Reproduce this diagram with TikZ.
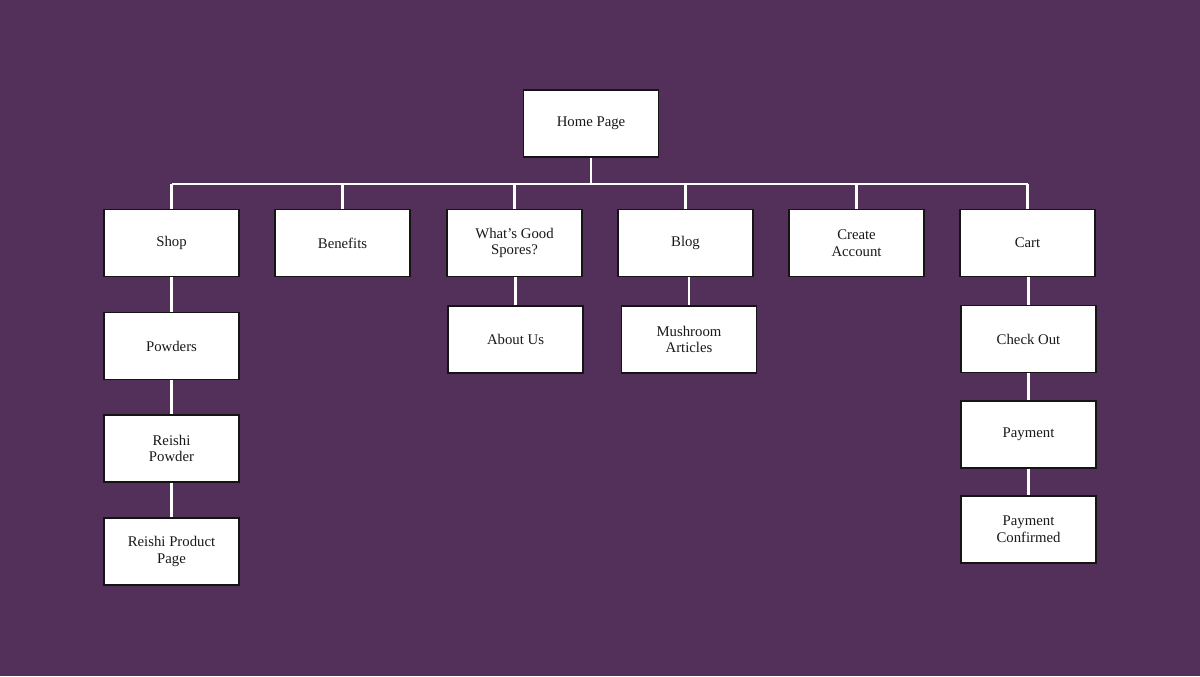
\documentclass[tikz,border=0pt]{standalone}
\usepackage{fontspec}
\setmainfont{Liberation Serif}
\definecolor{bgpurple}{RGB}{82,48,90}
\definecolor{boxline}{RGB}{20,20,20}
\begin{document}
\begin{tikzpicture}[
	x=0.025cm, y=-0.025cm,
	every node/.style={rectangle, minimum width=3.375cm, minimum height=1.675cm, draw=boxline, fill=white, line width=0.9pt, align=center, font=\fontsize{10.5}{11.8}\selectfont, text=black!90},
	link/.style={draw=white, line width=1.5pt},
]
\useasboundingbox[fill=bgpurple] (0,0) rectangle (1200,676);
\node (home) at (591,123.5) {Home Page};
\node (shop) at (171.5,243) {Shop};
\node (benefits) at (342.5,243) {Benefits};
\node (spores) at (514.5,243) {What's Good\\Spores?};
\node (blog) at (685.5,243) {Blog};
\node (account) at (856.5,243) {Create\\Account};
\node (cart) at (1027.5,243) {Cart};
\node (powders) at (171.5,346) {Powders};
\node (reishi) at (171.5,448.5) {Reishi\\Powder};
\node (product) at (171.5,551.5) {Reishi Product\\Page};
\node (about) at (515.5,339.5) {About Us};
\node (articles) at (689,339.5) {Mushroom\\Articles};
\node (checkout) at (1028.5,339) {Check Out};
\node (payment) at (1028.5,434.5) {Payment};
\node (confirmed) at (1028.5,529.5) {Payment\\Confirmed};
\coordinate (bus) at (591,184);
\draw [link] (home.south) -- (bus);
\draw [link] (bus -| shop.north) -- (bus -| cart.north);
\foreach \n in {shop,benefits,spores,blog,account,cart}
	\draw [link] (bus -| \n.north) -- (\n.north);
\draw [link] (shop.south) -- (powders.north);
\draw [link] (powders.south) -- (reishi.north);
\draw [link] (reishi.south) -- (product.north);
\draw [link] (about.north |- spores.south) -- (about.north);
\draw [link] (articles.north |- blog.south) -- (articles.north);
\draw [link] (checkout.north |- cart.south) -- (checkout.north);
\draw [link] (checkout.south) -- (payment.north);
\draw [link] (payment.south) -- (confirmed.north);
\end{tikzpicture}
\end{document}
